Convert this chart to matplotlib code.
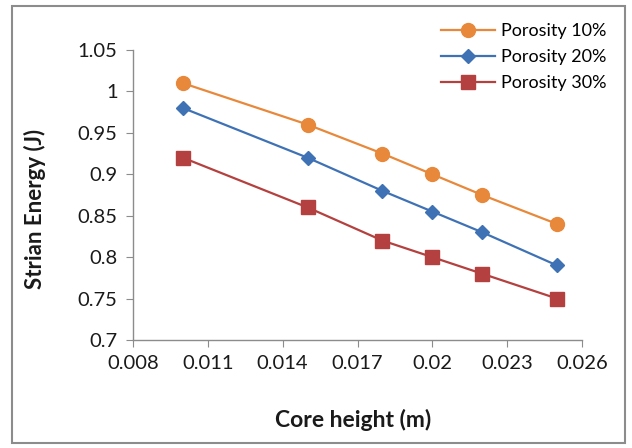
import matplotlib
matplotlib.use("Agg")
import matplotlib.pyplot as plt
from matplotlib.patches import Rectangle

plt.rcParams['font.family'] = ['Lato', 'DejaVu Sans']

core_height = [0.010, 0.015, 0.018, 0.020, 0.022, 0.025]
porosity_10 = [1.010, 0.960, 0.925, 0.900, 0.875, 0.840]
porosity_20 = [0.980, 0.920, 0.880, 0.855, 0.830, 0.790]
porosity_30 = [0.920, 0.860, 0.820, 0.800, 0.780, 0.750]
series_labels = ["Porosity 10%", "Porosity 20%", "Porosity 30%"]
x_ticks = [0.008, 0.011, 0.014, 0.017, 0.02, 0.023, 0.026]
x_tick_labels = ["0.008", "0.011", "0.014", "0.017", "0.02", "0.023", "0.026"]
y_ticks = [0.7, 0.75, 0.8, 0.85, 0.9, 0.95, 1.0, 1.05]
y_tick_labels = ["0.7", "0.75", "0.8", "0.85", "0.9", "0.95", "1", "1.05"]

fig = plt.figure(figsize=(6.32, 4.48), dpi=100)
fig.patches.append(Rectangle((12/632, 1-443/448), (625-12)/632, (443-6)/448,
                             transform=fig.transFigure, fill=False,
                             edgecolor='#8c8c8c', linewidth=1.5))
ax = fig.add_axes([133/632, 1-340/448, (582-133)/632, (340-50)/448])

ax.plot(core_height, porosity_10, color='#E8883A', marker='o', markersize=10,
        linewidth=1.6, label=series_labels[0])
ax.plot(core_height, porosity_20, color='#3F72B5', marker='D', markersize=7,
        linewidth=1.6, label=series_labels[1])
ax.plot(core_height, porosity_30, color='#B4413F', marker='s', markersize=9.5,
        linewidth=1.6, label=series_labels[2])

ax.set_xlim(0.008, 0.026)
ax.set_ylim(0.7, 1.05)
ax.set_xticks(x_ticks)
ax.set_xticklabels(x_tick_labels)
ax.set_yticks(y_ticks)
ax.set_yticklabels(y_tick_labels)
for s in ['top', 'right']:
    ax.spines[s].set_visible(False)
for s in ['left', 'bottom']:
    ax.spines[s].set_color('#8c8c8c')
    ax.spines[s].set_linewidth(1.0)
ax.tick_params(axis='both', direction='out', length=5, color='#8c8c8c',
               labelsize=14.5, labelcolor='#1a1a1a', pad=6)

fig.text(35/632, 1-209/448, "Strian Energy (J)", rotation=90, ha='center',
         va='center', fontsize=16, fontweight='bold', color='#1a1a1a')
fig.text(353/632, 1-420/448, "Core height (m)", ha='center', va='center',
         fontsize=16.5, fontweight='bold', color='#1a1a1a')

leg = ax.legend(loc='upper right', bbox_to_anchor=(614/632, 1-16/448),
                bbox_transform=fig.transFigure, frameon=False, fontsize=13,
                handlelength=3.0, handletextpad=0.35, labelspacing=0.55,
                borderaxespad=0)

fig.savefig("out.png", dpi=100)
